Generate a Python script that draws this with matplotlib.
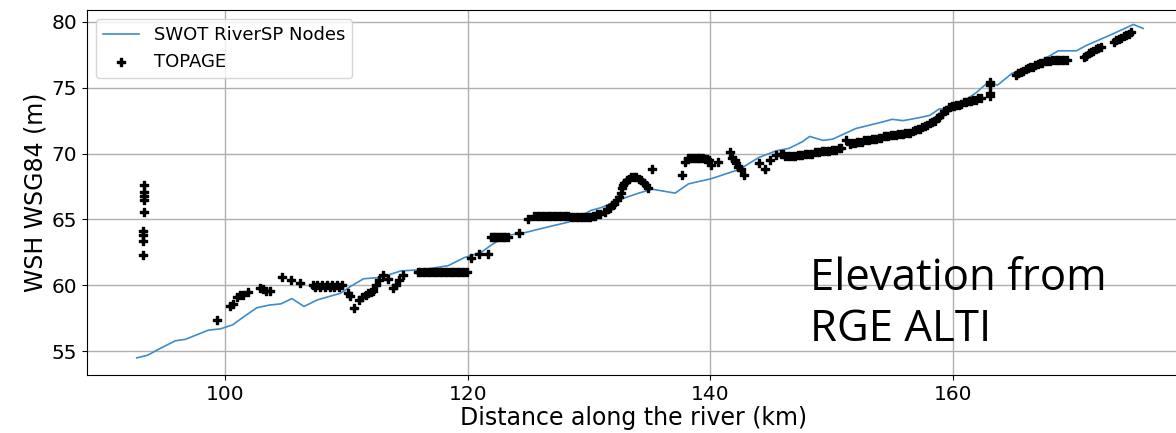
import numpy as np
import matplotlib
matplotlib.use("Agg")
from matplotlib import pyplot as plt

# SWOT RiverSP nodes (distance km, WSE m)
swot_dist = [92.7, 93.6, 94.6, 95.9, 96.7, 98.6, 99.6, 100.6, 101.5, 102.6, 103.6,
             104.6, 105.5, 106.5, 107.6, 109.5, 110.3, 111.4, 112.8, 114.5, 116.4,
             118.4, 119.7, 121.1, 122.0, 123.3, 124.7, 126.9, 128.3, 130.2, 131.0,
             132.5, 134.1, 135.2, 137.1, 138.2, 140.1, 142.4, 144.0, 145.4, 146.5,
             147.6, 148.2, 149.3, 150.1, 152.0, 154.2, 155.0, 155.9, 157.1, 158.1,
             158.9, 160.0, 161.1, 161.9, 162.9, 163.7, 164.9, 166.4, 167.4, 168.7,
             170.2, 171.0, 173.0, 174.9, 175.7]
swot_wse = [54.5, 54.7, 55.2, 55.8, 55.9, 56.6, 56.7, 57.0, 57.6, 58.3, 58.5,
            58.6, 59.0, 58.4, 58.9, 59.4, 59.9, 60.5, 60.6, 61.1, 61.2,
            61.5, 62.1, 62.5, 63.1, 63.8, 64.0, 64.5, 64.8, 65.7, 65.9,
            66.5, 67.0, 67.3, 67.0, 67.7, 68.1, 68.8, 69.7, 70.2, 70.4,
            70.9, 71.3, 71.0, 71.1, 71.9, 72.4, 72.6, 72.5, 72.7, 72.9,
            73.4, 73.3, 74.1, 74.6, 75.4, 75.2, 76.1, 76.6, 77.1, 77.8,
            77.8, 78.2, 79.0, 79.8, 79.5]

# TOPAGE points, one line per stretch of river
topage_dist = [
    93.2, 93.2, 93.2, 93.2, 93.3, 93.3, 93.3, 93.3, 93.3,
    99.3, 100.4, 100.6, 101.0, 101.2, 101.5, 101.9,
    102.9, 103.1, 103.4, 103.7, 104.7, 105.4, 106.2,
    107.2, 107.4, 107.6, 107.8, 108.0, 108.2, 108.4, 108.6, 108.8, 109.0, 109.2, 109.4, 109.6,
    110.1, 110.3, 110.6, 111.0, 111.3, 111.6, 111.8, 112.0, 112.2, 112.4,
    112.7, 113.0, 113.4, 113.8, 114.1, 114.3, 114.7,
    115.9, 116.1, 116.3, 116.5, 116.7, 116.9, 117.1, 117.3, 117.5, 117.7, 117.9,
    118.1, 118.3, 118.5, 118.7, 118.9, 119.1, 119.3, 119.5, 119.7, 119.9,
    120.3, 120.9, 121.7,
    121.9, 122.05, 122.2, 122.35, 122.5, 122.65, 122.8, 122.95, 123.1, 123.3, 124.2,
    125.0, 125.5, 125.7, 125.9, 126.1, 126.3, 126.5, 126.7, 126.9, 127.1, 127.3, 127.5,
    127.7, 127.9, 128.1, 128.3, 128.5, 128.7, 128.9, 129.1, 129.3, 129.5, 129.7, 129.9,
    130.1, 130.3, 130.5, 130.7, 130.9,
    131.3, 131.5, 131.7, 131.9, 132.1, 132.3, 132.5, 132.6, 132.7, 132.8, 132.9, 133.1,
    133.3, 133.5, 133.7, 133.9, 134.1, 134.3, 134.5, 134.7, 134.9, 135.2,
    137.7, 137.9, 138.2, 138.35, 138.5, 138.65, 138.8, 138.95, 139.1, 139.25, 139.4,
    139.55, 139.7, 139.9,
    140.1, 140.6, 141.6, 141.8, 142.0, 142.1, 142.3, 142.5, 142.8,
    144.0, 144.5, 144.9, 145.4,
    145.8, 146.0, 146.2, 146.4, 146.6, 146.8, 147.0, 147.2, 147.4, 147.6, 147.8, 148.0,
    148.2, 148.4, 148.6, 148.8, 149.0, 149.2, 149.4, 149.6, 149.8, 150.0, 150.2, 150.4,
    150.6, 150.8,
    151.2, 151.5, 151.7, 151.9, 152.1, 152.3, 152.5, 152.7, 152.9, 153.1, 153.3, 153.5,
    153.7, 153.9, 154.1, 154.3, 154.5, 154.7, 154.9, 155.1, 155.3, 155.5, 155.7, 155.9,
    156.1, 156.3, 156.5, 156.7, 156.9, 157.1, 157.3, 157.5, 157.7, 157.9, 158.1, 158.3,
    158.5, 158.7, 158.9, 159.1, 159.3, 159.5, 159.7, 159.9, 160.1, 160.3, 160.5, 160.7,
    160.9, 161.1, 161.3, 161.5, 161.7, 161.9, 162.1, 162.3,
    163.1, 163.1, 163.1, 163.1,
    165.2, 165.4, 165.6, 165.8, 166.0, 166.2, 166.4, 166.6, 166.8, 167.0, 167.2, 167.4,
    167.6, 167.8, 168.0, 168.2, 168.4, 168.6, 168.8, 169.0, 169.2, 169.4,
    170.8, 171.0, 171.2, 171.4, 171.6, 171.8, 172.0, 172.2,
    173.3, 173.5, 173.7, 173.9, 174.1, 174.3, 174.5, 174.7]
topage_wse = [
    62.3, 63.4, 63.8, 64.1, 65.6, 66.5, 66.8, 67.1, 67.6,
    57.4, 58.4, 58.6, 59.1, 59.3, 59.3, 59.5,
    59.8, 59.7, 59.6, 59.6, 60.6, 60.4, 60.2,
    60.0, 59.9, 60.0, 59.9, 60.0, 59.9, 60.0, 59.9, 60.0, 59.9, 60.0, 59.9, 60.0,
    59.4, 59.2, 58.3, 58.9, 59.1, 59.3, 59.4, 59.5, 59.6, 60.0,
    60.4, 60.8, 60.5, 59.8, 60.0, 60.4, 60.8,
    61.0, 61.0, 61.0, 61.0, 61.0, 61.0, 61.0, 61.0, 61.0, 61.0, 61.0,
    61.0, 61.0, 61.0, 61.0, 61.0, 61.0, 61.0, 61.0, 61.0, 61.0,
    62.1, 62.4, 62.4,
    63.7, 63.7, 63.7, 63.7, 63.7, 63.7, 63.7, 63.7, 63.7, 63.7, 64.0,
    65.0, 65.3, 65.3, 65.3, 65.3, 65.3, 65.3, 65.3, 65.3, 65.3, 65.3, 65.3,
    65.3, 65.3, 65.3, 65.3, 65.2, 65.2, 65.2, 65.2, 65.2, 65.2, 65.2, 65.2,
    65.2, 65.3, 65.3, 65.4, 65.4,
    65.6, 65.8, 65.9, 66.1, 66.2, 66.5, 66.7, 67.0, 67.4, 67.6, 67.8, 68.0,
    68.1, 68.2, 68.2, 68.2, 68.1, 68.0, 67.8, 67.6, 67.4, 68.8,
    68.4, 69.4, 69.7, 69.7, 69.7, 69.7, 69.7, 69.7, 69.7, 69.7, 69.7,
    69.6, 69.6, 69.5,
    69.1, 69.4, 70.1, 69.7, 69.5, 69.3, 69.0, 68.8, 68.4,
    69.3, 68.8, 69.5, 69.9,
    70.0, 70.0, 69.8, 69.8, 69.8, 69.8, 69.8, 69.9, 69.9, 69.9, 70.0, 70.0,
    70.0, 70.0, 70.1, 70.1, 70.1, 70.2, 70.2, 70.2, 70.2, 70.3, 70.3, 70.3,
    70.4, 70.4,
    71.0, 70.7, 70.8, 70.8, 70.9, 70.9, 70.9, 71.0, 71.0, 71.0, 71.1, 71.1,
    71.1, 71.2, 71.2, 71.3, 71.3, 71.3, 71.4, 71.4, 71.4, 71.5, 71.5, 71.5,
    71.6, 71.6, 71.6, 71.7, 71.8, 71.9, 71.9, 72.0, 72.1, 72.2, 72.3, 72.4,
    72.5, 72.7, 72.8, 73.0, 73.2, 73.3, 73.5, 73.6, 73.6, 73.7, 73.7, 73.8,
    73.9, 73.9, 74.0, 74.0, 74.1, 74.1, 74.2, 74.2,
    75.4, 75.2, 74.6, 74.4,
    76.0, 76.1, 76.2, 76.3, 76.4, 76.5, 76.6, 76.6, 76.7, 76.8, 76.9, 76.9,
    77.0, 77.0, 77.0, 77.1, 77.1, 77.1, 77.1, 77.1, 77.1, 77.1,
    77.3, 77.4, 77.6, 77.7, 77.8, 77.9, 78.0, 78.1,
    78.5, 78.6, 78.7, 78.8, 78.9, 79.0, 79.1, 79.2]

fig = plt.figure(figsize=(11.76, 4.33), dpi=100)
ax = fig.add_axes([0.074, 0.134, 0.93, 0.843])

ax.plot(swot_dist, swot_wse, color="#3f8bcb", linewidth=1.2, label="SWOT RiverSP Nodes", zorder=2)
ax.scatter(topage_dist, topage_wse, marker="P", s=30, color="black", label="TOPAGE", zorder=3)

ax.set_xlim(88.6, 178.8)
ax.set_ylim(53.2, 80.9)
ax.set_xticks([100, 120, 140, 160])
ax.set_yticks([55, 60, 65, 70, 75, 80])
ax.grid(True, color="#b0b0b0", linewidth=1.0)
ax.set_axisbelow(True)
ax.tick_params(labelsize=14.5)
ax.set_xlabel("Distance along the river (km)", fontsize=17, labelpad=2)
ax.set_ylabel("WSH WSG84 (m)", fontsize=17, labelpad=3)
ax.legend(loc="upper left", fontsize=13)

fig.text(0.689, 0.187, "Elevation from\nRGE ALTI", fontsize=31.5, family="Open Sans",
         ha="left", va="bottom", linespacing=1.2)

plt.savefig("out.png", dpi=100)
plt.close()
